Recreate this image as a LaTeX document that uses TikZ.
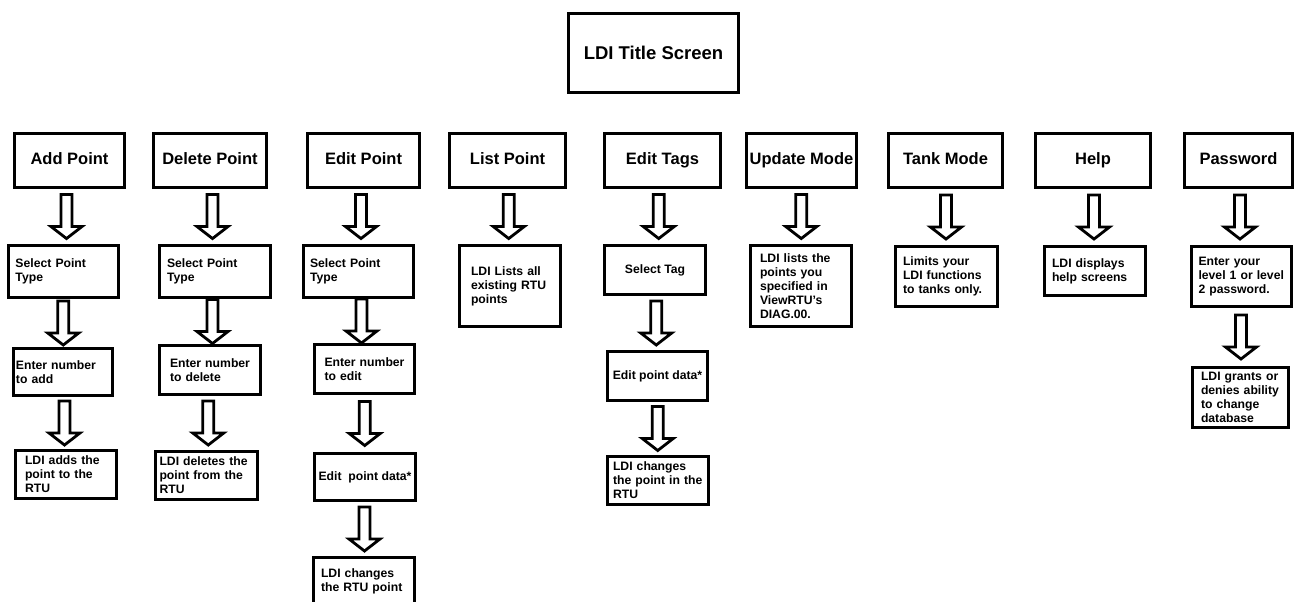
\documentclass[tikz,border=0pt]{standalone}
\usepackage{fontspec}
\setmainfont{Liberation Sans}
\usetikzlibrary{calc}

\begin{document}
\begin{tikzpicture}[x=1pt, y=-1pt,
				title/.style={draw, line width=3.3pt, minimum width=170, minimum height=79, font=\fontsize{18.5}{22}\selectfont\bfseries},
				menu/.style={draw, line width=3pt, minimum height=54, inner xsep=1pt, text height=12pt, text depth=3.5pt, font=\fontsize{16.5}{19}\selectfont\bfseries},
				stepbox/.style={draw, line width=2.8pt, inner sep=1pt, align=left, font=\fontsize{12.2}{14}\selectfont\bfseries},
				blockarrow/.style={draw, line width=2.8pt, fill=white, to path={
					let \p1=(\tikztostart.south), \p2=(\tikztotarget.north), \p3=($(\p1)!0.5!(\p2)$) in
					(\x3-5.5pt,\y3+22pt) -- (\x3-5.5pt,\y3-10pt) -- (\x3-15.5pt,\y3-10pt) -- (\x3,\y3-22pt)
					-- (\x3+15.5pt,\y3-10pt) -- (\x3+5.5pt,\y3-10pt) -- (\x3+5.5pt,\y3+22pt) -- cycle}}]
				%Bildbereich
				\useasboundingbox (0,0) rectangle (1294,602);
				\clip (0,0) rectangle (1294,602);
				% Titel
				\node[title] (ldi) at (653.5,53) {LDI Title Screen};
				% Menuepunkte
				\foreach \n/\x/\w/\t in {add/69.5/110/Add Point, del/210/113/Delete Point, edit/363.5/112/Edit Point,
						list/507.5/116/List Point, tags/662.5/116/Edit Tags, update/801.5/110/Update Mode,
						tank/945.5/114/Tank Mode, help/1093/115/Help, pass/1238.5/108/Password}
					\node[menu, minimum width=\w] (\n) at (\x,160.5) {\t};
				% Unterpunkte
				\node[stepbox, minimum width=110, minimum height=52, text width=96] (addsel) at (63.5,271.5) {Select Point\\Type};
				\node[stepbox, minimum width=99, minimum height=47, text width=94] (addnum) at (63,372) {Enter number\\to add};
				\node[stepbox, minimum width=101, minimum height=48, text width=82] (addldi) at (66,474.5) {LDI adds the\\point to the\\RTU};
				\node[stepbox, minimum width=111, minimum height=52, text width=96] (delsel) at (215,271.5) {Select Point\\Type};
				\node[stepbox, minimum width=101, minimum height=49, text width=80] (delnum) at (210,370) {Enter number\\to delete};
				\node[stepbox, minimum width=102, minimum height=48, text width=94] (delldi) at (206.5,475.5) {LDI deletes the\\point from the\\RTU};
				\node[stepbox, minimum width=110, minimum height=52, text width=97] (editsel) at (358.5,271.5) {Select Point\\Type};
				\node[stepbox, minimum width=100, minimum height=49, text width=80] (editnum) at (364.5,369) {Enter number\\to edit};
				\node[stepbox, minimum width=101, minimum height=47, align=center] (editdata) at (365,477) {Edit\ \ point data*};
				\node[stepbox, minimum width=101, minimum height=47, text width=86] (editldi) at (364,581) {LDI changes\\the RTU point};
				\node[stepbox, minimum width=101, minimum height=81, text width=78] (listldi) at (510,286) {LDI Lists all\\existing RTU\\points};
				\node[stepbox, minimum width=101, minimum height=49, align=center] (tagssel) at (655,270) {Select Tag};
				\node[stepbox, minimum width=100, minimum height=49, align=center] (tagsdata) at (657.5,376) {Edit point data*};
				\node[stepbox, minimum width=101, minimum height=48, text width=90] (tagsldi) at (658,480.5) {LDI changes\\the point in the\\RTU};
				\node[stepbox, minimum width=101, minimum height=81, text width=82] (updldi) at (801,286) {LDI lists the\\points you\\specified in\\ViewRTU's\\DIAG.00.};
				\node[stepbox, minimum width=102, minimum height=60, text width=87] (tankldi) at (946.5,276.5) {Limits your\\LDI functions\\to tanks only.};
				\node[stepbox, minimum width=101, minimum height=49, text width=86] (helpldi) at (1095,271) {LDI displays\\help screens};
				\node[stepbox, minimum width=100, minimum height=60, text width=86] (passenter) at (1241.5,276.5) {Enter your\\level 1 or level\\2 password.};
				\node[stepbox, minimum width=96, minimum height=60, text width=79] (passldi) at (1240.5,397.5) {LDI grants or\\denies ability\\to change\\database};
				% Pfeile zeichnen
				\foreach \von/\nach in {add/addsel, addsel/addnum, addnum/addldi, del/delsel, delsel/delnum, delnum/delldi,
						edit/editsel, editsel/editnum, editnum/editdata, editdata/editldi, list/listldi,
						tags/tagssel, tagssel/tagsdata, tagsdata/tagsldi, update/updldi, tank/tankldi,
						help/helpldi, pass/passenter, passenter/passldi}
					\draw[blockarrow] (\von) to (\nach);
			\end{tikzpicture}
\end{document}
